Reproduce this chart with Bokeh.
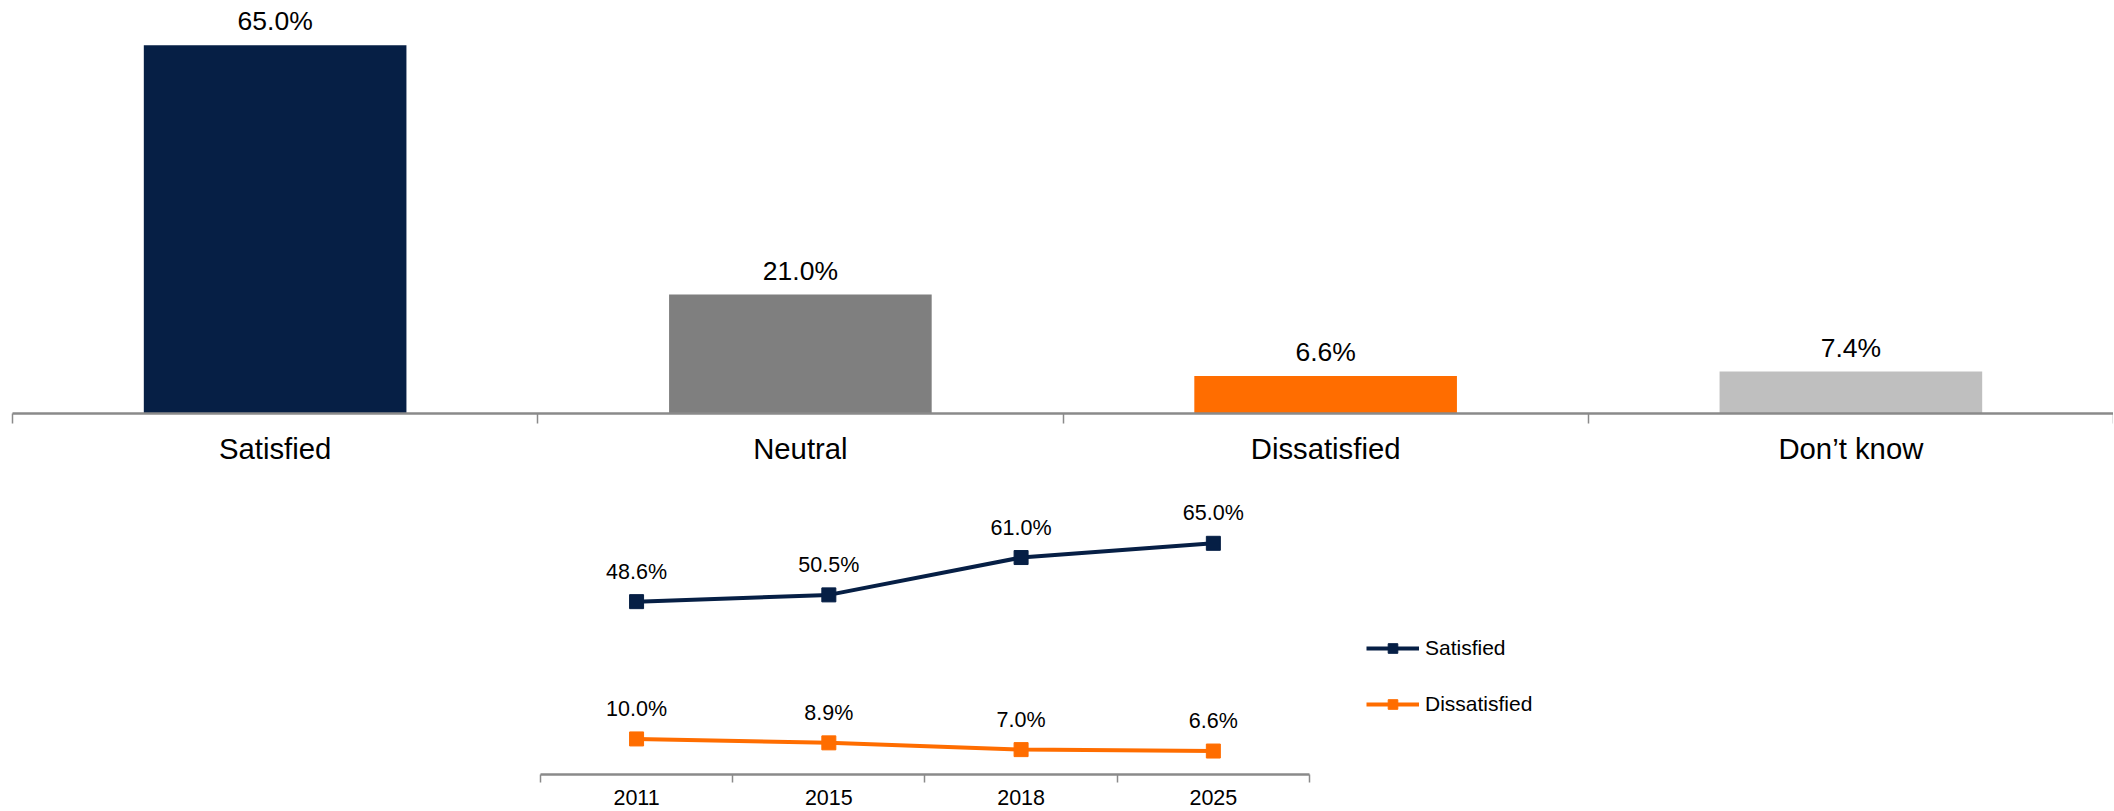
from bokeh.plotting import figure
from bokeh.models import (FactorRange, Range1d, LinearAxis, FixedTicker,
                          ColumnDataSource, Legend, LegendItem)
from bokeh.layouts import column
from bokeh.embed import file_html
from bokeh.resources import INLINE
from bokeh.core.properties import value

# ---------------- data ----------------
categories = ["Satisfied", "Neutral", "Dissatisfied", "Don\u2019t know"]
shares = [65.0, 21.0, 6.6, 7.4]
bar_colors = ["#061F45", "#7F7F7F", "#FF6D00", "#BFBFBF"]

years = ["2011", "2015", "2018", "2025"]
satisfied_trend = [48.6, 50.5, 61.0, 65.0]
dissatisfied_trend = [10.0, 8.9, 7.0, 6.6]

# ---------------- style ----------------
NAVY = "#061F45"
ORANGE = "#FF6D00"
AXIS_GRAY = "#8A8A8A"
FONT = "Liberation Sans"
W = 2113


def pct(v):
    return f"{v:.1f}%"


# ---------------- bar chart ----------------
bar_src = ColumnDataSource(dict(cat=categories, val=shares, color=bar_colors,
                                label=[pct(v) for v in shares]))
p1 = figure(x_range=FactorRange(factors=categories), y_range=Range1d(0, 72.9),
            width=W, height=479, output_backend="svg", toolbar_location=None,
            x_axis_location=None, y_axis_location=None,
            min_border_left=12, min_border_right=0, min_border_top=0,
            min_border_bottom=66, outline_line_color=None)
p1.grid.visible = False
p1.vbar(x="cat", top="val", width=0.5, fill_color="color", line_color=None,
        source=bar_src)
p1.text(x="cat", y="val", text="label", y_offset=-24, text_align="center",
        text_baseline="middle", text_font=value(FONT), text_font_size="26.5px",
        text_color="black", source=bar_src)

n = len(categories)
centers = [i + 0.5 for i in range(n)]
ax1 = LinearAxis(
    ticker=FixedTicker(ticks=centers, minor_ticks=list(range(n + 1))),
    major_label_overrides={c: lab for c, lab in zip(centers, categories)},
    axis_line_color=AXIS_GRAY, axis_line_width=2.5,
    major_tick_line_color=None, major_tick_out=0, major_tick_in=0,
    minor_tick_line_color=AXIS_GRAY, minor_tick_line_width=1.5,
    minor_tick_out=10, minor_tick_in=0,
    major_label_standoff=8, major_label_text_font=FONT,
    major_label_text_font_size="29.3px", major_label_text_color="black")
p1.add_layout(ax1, "below")

# ---------------- trend chart ----------------
trend_x = [i + 0.5 for i in range(len(years))]
p2 = figure(x_range=Range1d(-2.746, 8.182), y_range=Range1d(-10.4, 82.94),
            width=W, height=332, output_backend="svg", toolbar_location=None,
            x_axis_location=None, y_axis_location=None,
            min_border_left=12, min_border_right=0, min_border_top=0,
            min_border_bottom=0, outline_line_color=None)
p2.grid.visible = False

r1 = p2.line(trend_x, satisfied_trend, line_color=NAVY, line_width=4)
r2 = p2.scatter(trend_x, satisfied_trend, marker="square", size=14,
                fill_color=NAVY, line_color=NAVY)
r3 = p2.line(trend_x, dissatisfied_trend, line_color=ORANGE, line_width=4)
r4 = p2.scatter(trend_x, dissatisfied_trend, marker="square", size=14,
                fill_color=ORANGE, line_color=ORANGE)

for series in (satisfied_trend, dissatisfied_trend):
    p2.text(x=trend_x, y=series, text=[pct(v) for v in series], y_offset=-30,
            text_align="center", text_baseline="middle", text_font=value(FONT),
            text_font_size="21.5px", text_color="black")

m = len(years)
ax2 = LinearAxis(
    ticker=FixedTicker(ticks=trend_x, minor_ticks=list(range(m + 1))),
    major_label_overrides={c: y for c, y in zip(trend_x, years)},
    bounds=(0, m), fixed_location=0,
    axis_line_color=AXIS_GRAY, axis_line_width=2.5,
    major_tick_line_color=None, major_tick_out=0, major_tick_in=0,
    minor_tick_line_color=AXIS_GRAY, minor_tick_line_width=1.5,
    minor_tick_out=8, minor_tick_in=0,
    major_label_standoff=7, major_label_text_font=FONT,
    major_label_text_font_size="21.5px", major_label_text_color="black")
p2.add_layout(ax2, "below")

legend = Legend(items=[LegendItem(label="Satisfied", renderers=[r1, r2]),
                       LegendItem(label="Dissatisfied", renderers=[r3, r4])],
                location=(1354, 95), orientation="vertical",
                glyph_width=53, glyph_height=24, label_height=24,
                label_standoff=6, spacing=32, padding=0, margin=0,
                border_line_color=None, background_fill_alpha=0,
                label_text_font=FONT, label_text_font_size="21px",
                label_text_color="black")
p2.add_layout(legend, "center")

layout = column(p1, p2, spacing=0)
open("out.html", "w").write(file_html(layout, INLINE))
